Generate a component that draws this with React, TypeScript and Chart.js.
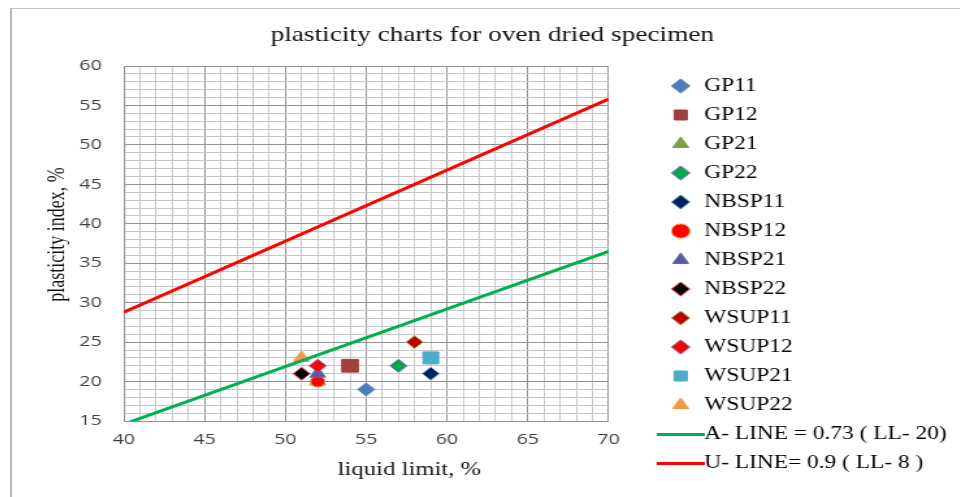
import React, { useEffect, useRef } from 'react';
import { Chart, registerables } from 'chart.js';

Chart.register(...registerables);

// ---- data ----
const seriesNames = ['GP11', 'GP12', 'GP21', 'GP22', 'NBSP11', 'NBSP12', 'NBSP21', 'NBSP22', 'WSUP11', 'WSUP12', 'WSUP21', 'WSUP22'];
const liquidLimit = [55, 54, 52, 57, 59, 52, 52, 51, 58, 52, 59, 51];
const plasticityIndex = [19, 22, 20, 22, 21, 20, 21, 21, 25, 22, 23, 23];
const markerShapes = ['rectRot', 'rect', 'triangle', 'rectRot', 'rectRot', 'circle', 'triangle', 'rectRot', 'rectRot', 'rectRot', 'rect', 'triangle'];
const markerFill = ['#4A7EBB', '#A0403E', '#7E9D46', '#00A850', '#002060', '#FF0000', '#5A5AA0', '#000000', '#C00000', '#FF0000', '#4BACC6', '#F79646'];
const markerEdge = ['#4A7EBB', '#A0403E', '#7E9D46', '#7F5FA8', '#4BACC6', '#F79646', '#4F6FB0', '#FF5050', '#9BBB59', '#8064A2', '#4BACC6', '#F79646'];
const markerRadius = [6.5, 9, 7, 6.5, 6.5, 5.5, 7, 6.5, 6.5, 6.5, 8.5, 7];

const lineNames = ['A- LINE = 0.73 ( LL- 20)', 'U- LINE= 0.9 ( LL- 8 )'];
const lineColors = ['#00B050', '#FF0000'];
const lineLL = [40, 70];
const aLinePI = [14.6, 36.5];
const uLinePI = [28.8, 55.8];

const xTickLabels = [40, 45, 50, 55, 60, 65, 70];
const yTickLabels = [15, 20, 25, 30, 35, 40, 45, 50, 55, 60];

const STRETCH = 1.3;
const CANVAS_W = 730;
const CANVAS_H = 488;

function makeLineSwatch(color: string) {
  const c = document.createElement('canvas');
  c.width = 37;
  c.height = 3;
  const g = c.getContext('2d');
  if (g) {
    g.fillStyle = color;
    g.fillRect(0, 0, 37, 3);
  }
  return c;
}

export default function App() {
  const ref = useRef<HTMLCanvasElement | null>(null);

  useEffect(() => {
    if (!ref.current) return;
    const scatterSets = seriesNames.map((name, i) => ({
      type: 'scatter' as const,
      label: name,
      data: [{ x: liquidLimit[i], y: plasticityIndex[i] }],
      pointStyle: markerShapes[i],
      pointRadius: markerRadius[i],
      pointBackgroundColor: markerFill[i],
      pointBorderColor: markerEdge[i],
      pointBorderWidth: 1,
      backgroundColor: markerFill[i],
      borderColor: markerEdge[i],
      order: -i,
    }));
    const linePI = [aLinePI, uLinePI];
    const lineSets = lineNames.map((name, k) => ({
      type: 'scatter' as const,
      label: name,
      data: lineLL.map((x, j) => ({ x, y: linePI[k][j] })),
      showLine: true,
      borderColor: lineColors[k],
      backgroundColor: lineColors[k],
      borderWidth: 3,
      pointStyle: 'line',
      pointRadius: 0,
      pointHoverRadius: 0,
      pointBorderWidth: 3,
      pointBorderColor: lineColors[k],
      pointBackgroundColor: lineColors[k],
      order: -20 - k,
    }));
    const swatches = lineColors.map(makeLineSwatch);
    const nScatter = seriesNames.length;

    const gridColor = (ctx: any) => (ctx.tick && ctx.tick.value % 5 === 0 ? '#939393' : '#c8c8c8');
    const defaultLabels = (Chart.defaults as any).plugins.legend.labels.generateLabels;

    const chart = new Chart(ref.current, {
      type: 'scatter',
      data: { datasets: [...scatterSets, ...lineSets] as any },
      options: {
        responsive: false,
        animation: false,
        events: [],
        layout: { padding: { left: 10, right: 1, top: 4, bottom: 14 } },
        plugins: {
          tooltip: { enabled: false },
          title: {
            display: true,
            text: 'plasticity charts for oven dried specimen',
            color: '#111',
            font: { family: '"Liberation Serif", "Times New Roman", serif', size: 21, weight: 'normal' },
            padding: { top: 10, bottom: 17.8 },
          },
          legend: {
            display: true,
            position: 'right',
            align: 'end',
            maxWidth: 320,
            labels: {
              usePointStyle: true,
              boxHeight: 10,
              padding: 11,
              color: '#000',
              font: { family: '"Liberation Serif", "Times New Roman", serif', size: 18 },
              sort: (a: any, b: any) => a.datasetIndex - b.datasetIndex,
              generateLabels: (c: any) => {
                const items = defaultLabels(c);
                items.forEach((it: any) => {
                  if (it.datasetIndex >= nScatter) {
                    it.pointStyle = swatches[it.datasetIndex - nScatter];
                  }
                });
                return items;
              },
            },
          },
        },
        scales: {
          x: {
            type: 'linear',
            min: 40,
            max: 70,
            border: { display: true, color: '#939393', width: 1 },
            grid: { color: gridColor, drawTicks: false, lineWidth: 1 },
            ticks: {
              stepSize: 1,
              autoSkip: false,
              maxRotation: 0,
              padding: 10,
              color: '#404040',
              font: { family: '"Open Sans", sans-serif', size: 15 },
              callback: (v: any) => (xTickLabels.includes(Number(v)) ? String(v) : ''),
            },
            title: {
              display: true,
              text: '              liquid limit, %',
              color: '#111',
              font: { family: '"Liberation Serif", "Times New Roman", serif', size: 19 },
              padding: { top: 0, bottom: 1.2 },
            },
          },
          y: {
            type: 'linear',
            min: 15,
            max: 60,
            border: { display: true, color: '#939393', width: 1 },
            grid: { color: gridColor, drawTicks: false, lineWidth: 1 },
            ticks: {
              stepSize: 1,
              autoSkip: false,
              padding: 17,
              color: '#404040',
              font: { family: '"Open Sans", sans-serif', size: 15 },
              callback: (v: any) => (yTickLabels.includes(Number(v)) ? String(v) : ''),
            },
            title: {
              display: true,
              text: '    plasticity index, %',
              color: '#111',
              font: { family: '"Liberation Serif", "Times New Roman", serif', size: 18 },
              padding: { top: 14.6, bottom: 0 },
            },
            afterFit: (s: any) => {
              s.width = 76;
            },
          },
          gap: {
            type: 'linear',
            position: 'right',
            display: true,
            grid: { display: false, drawTicks: false },
            border: { display: false },
            ticks: { display: false },
            afterFit: (s: any) => {
              s.width = 35.5;
            },
          },
        },
      } as any,
    });
    return () => chart.destroy();
  }, []);

  return (
    <div
      style={{
        position: 'fixed',
        left: 10,
        top: 8,
        width: 980,
        height: 520,
        borderLeft: '2px solid #b8b8b8',
        borderTop: '1px solid #c4c4c4',
        background: '#fff',
        overflow: 'hidden',
      }}
    >
      <canvas
        ref={ref}
        width={CANVAS_W}
        height={CANVAS_H}
        style={{
          display: 'block',
          width: CANVAS_W,
          height: CANVAS_H,
          transform: `scaleX(${STRETCH})`,
          transformOrigin: '0 0',
        }}
      />
    </div>
  );
}
